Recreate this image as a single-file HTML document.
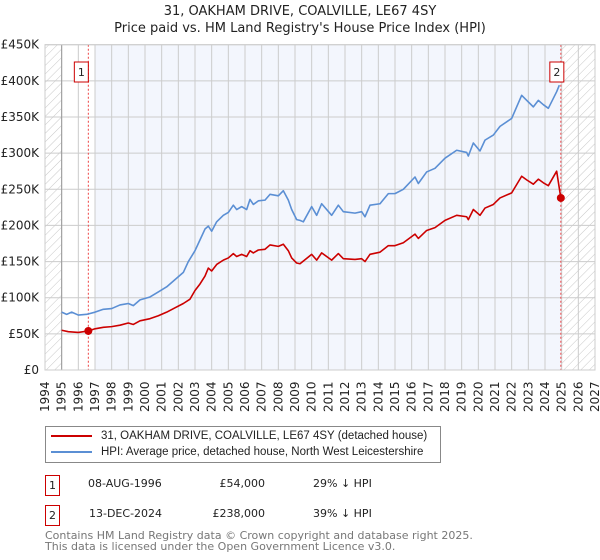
<!DOCTYPE html>
<html><head><meta charset="utf-8"><style>
body{margin:0;background:#fff;font-family:"Liberation Sans","DejaVu Sans",sans-serif;}
#wrap{position:relative;width:600px;height:560px;overflow:hidden;}
.t{position:absolute;white-space:nowrap;}
</style></head><body><div id="wrap">
<div class="t" style="left:0;width:600px;text-align:center;top:4px;font-size:13px;color:#222;font-family:'DejaVu Sans',sans-serif">31, OAKHAM DRIVE, COALVILLE, LE67 4SY</div>
<div class="t" style="left:0;width:600px;text-align:center;top:21px;font-size:13px;color:#222;font-family:'DejaVu Sans',sans-serif">Price paid vs. HM Land Registry's House Price Index (HPI)</div>
<svg id="chart" width="600" height="420" style="position:absolute;left:0;top:0" font-family="DejaVu Sans, sans-serif"></svg>
<div style="position:absolute;left:45px;top:426px;width:394px;height:35px;border:1px solid #888;font-family:'Liberation Sans',sans-serif;font-size:11.5px;color:#222;white-space:nowrap">
<div style="position:absolute;left:5px;top:3px"><span style="display:inline-block;width:41px;height:2px;background:#cc0000;vertical-align:middle;margin-right:9px"></span>31, OAKHAM DRIVE, COALVILLE, LE67 4SY (detached house)</div>
<div style="position:absolute;left:5px;top:19px"><span style="display:inline-block;width:41px;height:2px;background:#5b8fd4;vertical-align:middle;margin-right:9px"></span>HPI: Average price, detached house, North West Leicestershire</div>
</div>
<div style="font-family:'DejaVu Sans',sans-serif;font-size:11px;color:#222">
<div class="t" style="left:45px;top:475px;width:13px;height:19px;border:1px solid #cc0000;text-align:center;line-height:19px">1</div>
<div class="t" style="left:88px;top:477px">08-AUG-1996</div>
<div class="t" style="left:205px;width:60px;text-align:right;top:477px">£54,000</div>
<div class="t" style="left:313px;top:477px">29% ↓ HPI</div>
<div class="t" style="left:45px;top:505px;width:13px;height:19px;border:1px solid #cc0000;text-align:center;line-height:19px">2</div>
<div class="t" style="left:89px;top:507px">13-DEC-2024</div>
<div class="t" style="left:195px;width:70px;text-align:right;top:507px">£238,000</div>
<div class="t" style="left:313px;top:507px">39% ↓ HPI</div>
</div>
<div class="t" style="left:45px;top:530px;font-size:11px;color:#777;line-height:11px;font-family:'DejaVu Sans',sans-serif">Contains HM Land Registry data © Crown copyright and database right 2025.<br>This data is licensed under the Open Government Licence v3.0.</div>
</div>
<script>
const hpiYears=[1995.0,1995.3,1995.6,1996.0,1996.5,1997.0,1997.5,1998.0,1998.5,1999.0,1999.3,1999.7,2000.3,2000.8,2001.3,2001.8,2002.3,2002.6,2003.0,2003.3,2003.6,2003.8,2004.0,2004.3,2004.7,2005.0,2005.3,2005.5,2005.8,2006.1,2006.3,2006.5,2006.8,2007.2,2007.5,2008.0,2008.3,2008.6,2008.8,2009.1,2009.3,2009.5,2010.0,2010.3,2010.6,2011.2,2011.6,2011.9,2012.6,2013.0,2013.2,2013.5,2014.1,2014.6,2015.0,2015.5,2016.2,2016.4,2016.9,2017.4,2018.0,2018.7,2019.3,2019.4,2019.7,2020.1,2020.4,2020.9,2021.3,2022.0,2022.6,2022.9,2023.3,2023.6,2023.9,2024.2,2024.7,2024.86];
const hpiValues=[80,77,80,76,77,80,84,85,90,92,89,97,101,108,115,125,135,150,165,180,195,199,192,205,214,218,228,222,226,222,236,229,234,235,243,241,248,235,222,208,207,205,226,214,230,214,228,219,217,219,212,228,230,244,244,250,267,258,274,279,293,304,301,296,314,303,318,325,337,348,380,373,364,373,367,362,385,394];
const ppYears=[1995.0,1995.4,1996.0,1996.6,1997.0,1997.5,1998.0,1998.5,1999.0,1999.3,1999.7,2000.3,2000.8,2001.3,2001.8,2002.3,2002.7,2003.0,2003.3,2003.6,2003.8,2004.0,2004.3,2004.7,2005.0,2005.3,2005.5,2005.8,2006.1,2006.3,2006.5,2006.8,2007.2,2007.5,2008.0,2008.3,2008.6,2008.8,2009.1,2009.3,2010.0,2010.3,2010.6,2011.2,2011.6,2011.9,2012.6,2013.0,2013.2,2013.5,2014.1,2014.6,2015.0,2015.5,2016.2,2016.4,2016.9,2017.4,2018.0,2018.7,2019.3,2019.4,2019.7,2020.1,2020.4,2020.9,2021.3,2022.0,2022.6,2022.9,2023.3,2023.6,2023.9,2024.2,2024.7,2024.95];
const ppValues=[55,53,52,54,57,59,60,62,65,63,68,71,75,80,86,92,98,110,119,130,141,137,146,152,155,161,157,160,157,165,162,166,167,173,171,174,165,155,148,147,160,152,162,152,161,154,153,154,150,160,163,172,172,176,188,182,193,197,207,214,212,208,222,214,224,229,238,245,268,263,257,264,259,255,275,238];
const saleYears=[1996.6,2024.95];
const saleValues=[54,238];
const saleLabels=["1","2"];
const yTicks=[0,50,100,150,200,250,300,350,400,450];
const yTickLabels=["£0","£50K","£100K","£150K","£200K","£250K","£300K","£350K","£400K","£450K"];
const yearStart=1994, yearEnd=2027;

const NS="http://www.w3.org/2000/svg";
const svg=document.getElementById('chart');
const L=45,R=595,T=44.7,B=370;
const X=y=>L+(y-yearStart)/(yearEnd-yearStart)*(R-L);
const Y=v=>B-v/450*(B-T);
function mk(tag,attrs,parent){const e=document.createElementNS(NS,tag);for(const k in attrs)e.setAttribute(k,attrs[k]);(parent||svg).appendChild(e);return e;}
const defs=mk('defs',{});
const pat=mk('pattern',{id:'hatch',width:6,height:6,patternUnits:'userSpaceOnUse',patternTransform:'rotate(45)'},defs);
mk('line',{x1:0,y1:0,x2:0,y2:6,stroke:'#c8c8c8','stroke-width':1},pat);
let r=mk('rect',{x:L,y:T,width:R-L,height:B-T,fill:'#fff'});


r=mk('rect',{x:X(1997),y:T,width:X(2025)-X(1997),height:B-T,fill:'#f3f6fd'});


r=mk('rect',{x:L,y:T,width:X(1995)-L,height:B-T,fill:'url(#hatch)'});


r=mk('rect',{x:X(2025),y:T,width:R-X(2025),height:B-T,fill:'url(#hatch)'});


for(let yr=yearStart;yr<=yearEnd;yr++){
  const g=mk('line',{x1:X(yr),x2:X(yr),y1:T,y2:B,stroke:'#cccccc','stroke-width':1});
  
  
  const t=mk('text',{transform:`translate(${X(yr)+4},${B+42}) rotate(-90)`,'font-size':12,fill:'#222'});
  t.textContent=yr;
  
  
}
yTicks.forEach((v,i)=>{
  const g=mk('line',{x1:L,x2:R,y1:Y(v),y2:Y(v),stroke:'#cccccc','stroke-width':1});
  
  
  const t=mk('text',{x:L-6,y:Y(v)+4,'text-anchor':'end','font-size':12,fill:'#222'});
  t.textContent=yTickLabels[i];
  
  
});
let ax=mk('line',{x1:X(1995),x2:X(1995),y1:T,y2:B,stroke:'#999','stroke-width':1});


saleYears.forEach((yr,i)=>{
  const l=mk('line',{x1:X(yr),x2:X(yr),y1:T,y2:B,stroke:'#ee4444','stroke-width':1,'stroke-dasharray':'2,2'});
  
  
});
function line(xs,vs,color,name){
  const p=mk('polyline',{points:xs.map((x,i)=>X(x)+','+Y(vs[i])).join(' '),fill:'none',stroke:color,'stroke-width':1.6,'stroke-linejoin':'round'});
  
  
}
line(hpiYears,hpiValues,'#5b8fd4','hpi-line');
line(ppYears,ppValues,'#cc0000','price-paid-line');
saleYears.forEach((yr,i)=>{
  const c=mk('circle',{cx:X(yr),cy:Y(saleValues[i]),r:4,fill:'#cc0000'});
  
  
  const gx=X(yr)+(i===0?-7:-4);
  const b=mk('rect',{x:gx-7,y:62,width:14,height:20,fill:'#fff',stroke:'#cc0000','stroke-width':1});
  
  
  const t=mk('text',{x:gx,y:76,'text-anchor':'middle','font-size':11,fill:'#222'});
  t.textContent=saleLabels[i];
  
  
});
let bd=mk('rect',{x:L,y:T,width:R-L,height:B-T,fill:'none',stroke:'#cccccc','stroke-width':1});


</script>
</body></html>
